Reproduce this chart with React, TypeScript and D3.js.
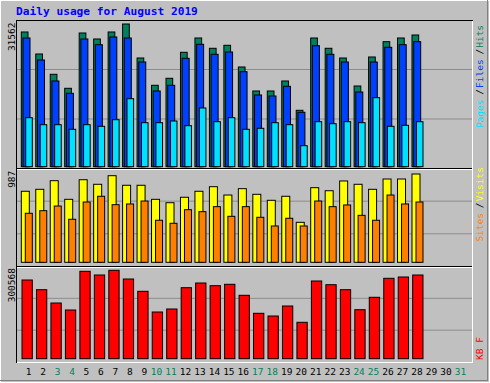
import React from "react";
import * as d3 from "d3";

const dayLabels = ["1","2","3","4","5","6","7","8","9","10","11","12","13","14","15","16","17","18","19","20","21","22","23","24","25","26","27","28","29","30","31"];
const weekendDays = [3, 4, 10, 11, 17, 18, 24, 25, 31];

const hits = [29796, 24929, 20439, 17342, 29574, 28247, 29796, 31562, 24044, 18006, 19554, 25305, 28468, 26190, 26854, 22054, 16745, 16745, 18957, 12476, 28468, 26190, 24044, 17851, 24266, 27650, 28468, 29132];
const files = [28468, 23602, 18957, 16236, 28247, 26986, 28690, 28468, 23160, 16745, 18006, 23978, 27075, 24863, 25372, 21014, 15860, 15639, 17784, 12033, 26765, 24863, 23160, 16524, 23160, 26411, 26986, 27650];
const pages = [10839, 9290, 9290, 8273, 9290, 8936, 10396, 15042, 9733, 9733, 10109, 9069, 12984, 9954, 10839, 8273, 8494, 9733, 9290, 4645, 9954, 9512, 9954, 9733, 15263, 8936, 9158, 9954];
const visits = [794, 816, 912, 704, 923, 872, 968, 861, 861, 704, 666, 727, 794, 845, 752, 823, 760, 693, 738, 447, 834, 800, 909, 872, 816, 931, 931, 987];
const sites = [548, 577, 629, 481, 674, 738, 644, 652, 685, 470, 436, 588, 566, 622, 514, 622, 503, 406, 492, 406, 685, 622, 641, 525, 470, 752, 652, 674];
const kbytes = [267580, 234600, 189380, 165580, 297160, 284580, 300568, 270980, 229160, 158780, 168980, 241400, 257380, 248200, 252960, 215560, 154360, 145180, 179180, 123760, 264180, 251600, 234600, 166600, 208760, 273360, 277780, 284580];

const maxLabels = ["31562", "987", "300568"];
const title = "Daily usage for August 2019";

const C = {
  bg: "#c0c0c0",
  hits: "#00805c",
  files: "#0040ff",
  pages: "#00e0ff",
  visits: "#ffff00",
  sites: "#ff8000",
  kb: "#ff0000",
  grid: "#8c8c8c",
  title: "#0000ff",
};

const FONT = "'DejaVu Sans Mono', monospace";

export default function App() {
  const W = 490, H = 383;
  const L = 16, R = 472, T = 20, S1 = 168.5, S2 = 266.5, B = 362;
  const x = d3.scaleLinear().domain([1, 31]).range([29, 29 + 30 * 14.47]);
  const y1 = d3.scaleLinear().domain([0, +maxLabels[0]]).range([166.7, 24]);
  const y2 = d3.scaleLinear().domain([0, +maxLabels[1]]).range([262.3, 174]);
  const y3 = d3.scaleLinear().domain([0, +maxLabels[2]]).range([358.7, 270.3]);

  const bars = (vals: number[], y: d3.ScaleLinear<number, number>, x0: number, x1: number, fill: string, key: string) =>
    vals.map((v, i) => {
      const cx = x(i + 1);
      const top = y(v);
      const base = y(0);
      return (
        <rect key={key + i} x={cx + x0} y={top} width={x1 - x0} height={base - top}
          fill={fill} stroke="#000" strokeWidth={1} />
      );
    });

  const grid = (top: number, bot: number, k: string) => {
    const h = (bot - top) / 3;
    return [1, 2].map((j) => (
      <line key={k + j} x1={L + 1} x2={R} y1={top + j * h} y2={top + j * h} stroke={C.grid} strokeWidth={1} />
    ));
  };

  const upText = (txt: string, xb: number, yEnd: number, fill: string, k: string, anchor = "end", size = 9.5) => (
    <text key={k} transform={`translate(${xb},${yEnd}) rotate(-90)`} textAnchor={anchor}
      fontFamily={FONT} fontSize={size} fill={fill}>{txt}</text>
  );

  return (
    <svg width={W} height={H} style={{ position: "absolute", left: 0, top: 0 }}>
      <rect x={0} y={0} width={W} height={H} fill={C.bg} />
      {/* outer bevel */}
      <line x1={0} y1={0.5} x2={W} y2={0.5} stroke="#fff" />
      <line x1={0.5} y1={0} x2={0.5} y2={H} stroke="#fff" />
      <line x1={0} y1={H - 2.5} x2={W - 2} y2={H - 2.5} stroke="#808080" />
      <line x1={W - 2.5} y1={0} x2={W - 2.5} y2={H - 2} stroke="#808080" />
      <line x1={0} y1={H - 0.5} x2={W} y2={H - 0.5} stroke="#fff" />
      <line x1={W - 0.5} y1={0} x2={W - 0.5} y2={H} stroke="#fff" />

      {/* title */}
      <text x={16} y={15} fontFamily={FONT} fontWeight="bold" fontSize={11.2} fill={C.title}>{title}</text>

      {/* grids */}
      {grid(T, S1, "g1")}
      {grid(S1, S2, "g2")}
      {grid(S2, B, "g3")}

      {/* panel 1 */}
      {bars(hits, y1, -7.7, -1, C.hits, "h")}
      {bars(files, y1, -6, 1, C.files, "f")}
      {bars(pages, y1, -3.3, 3.3, C.pages, "p")}
      {/* panel 2 */}
      {bars(visits, y2, -7.7, 0.3, C.visits, "v")}
      {bars(sites, y2, -3.7, 3.3, C.sites, "s")}
      {/* panel 3 */}
      {bars(kbytes, y3, -7, 3.3, C.kb, "k")}

      {/* frame */}
      <line x1={L} y1={T + 0.5} x2={R + 1} y2={T + 0.5} stroke="#000" />
      <line x1={L + 0.5} y1={T} x2={L + 0.5} y2={B + 1} stroke="#000" />
      <line x1={L + 1} y1={B + 0.5} x2={R + 1} y2={B + 0.5} stroke="#fff" />
      <line x1={R + 0.5} y1={T + 1} x2={R + 0.5} y2={B + 1} stroke="#fff" />
      <line x1={L} y1={S1} x2={R} y2={S1} stroke="#000" />
      <line x1={L + 1} y1={S1 + 1} x2={R} y2={S1 + 1} stroke="#fff" />
      <line x1={L} y1={S2} x2={R} y2={S2} stroke="#000" />
      <line x1={L + 1} y1={S2 + 1} x2={R} y2={S2 + 1} stroke="#fff" />

      {/* max labels */}
      {upText(maxLabels[0], 14.5, 22.5, "#000", "m1")}
      {upText(maxLabels[1], 14.5, 170.7, "#000", "m2")}
      {upText(maxLabels[2], 14.5, 268, "#000", "m3")}

      {/* right legends */}
      {upText("Hits", 483, 24.9, C.hits, "lh")}
      {upText("/", 483, 48.8, "#000", "ls1")}
      {upText("Files", 483, 59.3, C.files, "lf")}
      {upText("/", 483, 89, "#000", "ls2")}
      {upText("Pages", 483, 99.5, C.pages, "lp")}
      {upText("Visits", 483, 167, C.visits, "lv")}
      {upText("/", 483, 202.5, "#000", "ls3")}
      {upText("Sites", 483, 213, C.sites, "lsi")}
      {upText("KB F", 483, 360, C.kb, "lk", "start")}

      {/* day labels */}
      {dayLabels.map((d, i) => {
        const cx = x(i + 1);
        const off = d.length > 1 ? -2.7 : -0.4;
        return (
          <text key={"d" + d} x={cx + off} y={374.5} textAnchor="middle" fontFamily={FONT} fontSize={9.5}
            fill={weekendDays.includes(i + 1) ? C.hits : "#000"}>{d}</text>
        );
      })}
    </svg>
  );
}
